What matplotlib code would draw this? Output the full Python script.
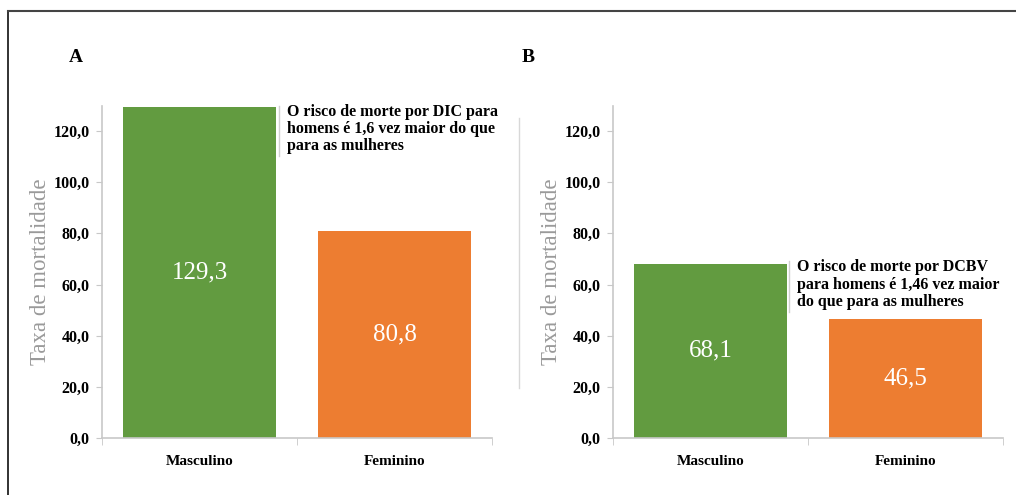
import matplotlib
matplotlib.use('Agg')
import matplotlib.pyplot as plt
from matplotlib.lines import Line2D

# Data
categorias = ['Masculino', 'Feminino']
taxa_dic = [129.3, 80.8]
taxa_dcbv = [68.1, 46.5]
yticks = [0, 20, 40, 60, 80, 100, 120]
nota_dic = "O risco de morte por DIC para\nhomens é 1,6 vez maior do que\npara as mulheres"
nota_dcbv = "O risco de morte por DCBV\npara homens é 1,46 vez maior\ndo que para as mulheres"

cores = ['#629b40', '#ed7d31']
plt.rcParams['font.family'] = ['Liberation Serif', 'DejaVu Serif']


def fmt(v, d=1):
    return "{:.{}f}".format(v, d).replace('.', ',')


def painel(ax, vals, nota, nota_x, nota_top):
    xs = range(len(categorias))
    ax.bar(xs, vals, width=0.78, color=cores, zorder=2)
    for x, v in zip(xs, vals):
        ax.text(x, v / 2., fmt(v), ha='center', va='center', color='white',
                fontsize=18)
    ax.set_xlim(-0.5, 1.5)
    ax.set_ylim(0, 129.8)
    ax.set_yticks(yticks)
    ax.set_yticklabels([fmt(t) for t in yticks], fontweight='bold',
                       fontsize=11.5)
    ax.set_xticks(list(xs))
    ax.set_xticklabels(categorias, fontweight='bold', fontsize=11)
    ax.set_xticks([-0.5, 0.5, 1.5], minor=True)
    ax.tick_params(axis='x', which='major', length=0, pad=12)
    ax.tick_params(axis='x', which='minor', length=5, color='#c8c8c8')
    ax.tick_params(axis='y', length=4, color='#c8c8c8', pad=5)
    for s in ('top', 'right'):
        ax.spines[s].set_visible(False)
    for s in ('left', 'bottom'):
        ax.spines[s].set_color('#c8c8c8')
        ax.spines[s].set_linewidth(1.2)
    ax.set_ylabel("Taxa de mortalidade", color='#9a9a9a', fontsize=16.5,
                  labelpad=2)
    # annotation with bracket
    ax.plot([nota_x - 0.04, nota_x - 0.04], [nota_top, nota_top - 19.6],
            color='#d0d0d0', lw=1, clip_on=False)
    ax.text(nota_x, nota_top + 0.8, nota, ha='left', va='top',
            fontweight='bold', fontsize=11.5, linespacing=1.1)


fig = plt.figure(figsize=(10.16, 4.95), dpi=100)
axA = fig.add_axes([0.1004, 0.1152, 0.3839, 0.6707])
axB = fig.add_axes([0.6033, 0.1152, 0.3839, 0.6707])

painel(axA, taxa_dic, nota_dic, 0.449, 129.8)
painel(axB, taxa_dcbv, nota_dcbv, 0.444, 69.0)

fig.text(69 / 1016, 1 - 57 / 495, 'A', fontweight='bold', fontsize=14,
         va='center')
fig.text(522 / 1016, 1 - 57 / 495, 'B', fontweight='bold', fontsize=14,
         va='center')

# frame and separator
fig.add_artist(Line2D([8 / 1016, 8 / 1016], [0, 1 - 11 / 495],
                      color='#222222', lw=1.3))
fig.add_artist(Line2D([8 / 1016, 1], [1 - 11 / 495, 1 - 11 / 495],
                      color='#444444', lw=1.5))
fig.add_artist(Line2D([519 / 1016, 519 / 1016], [1 - 118 / 495, 1 - 388 / 495],
                      color='#d8d8d8', lw=1))

fig.savefig('out.png', dpi=100)
